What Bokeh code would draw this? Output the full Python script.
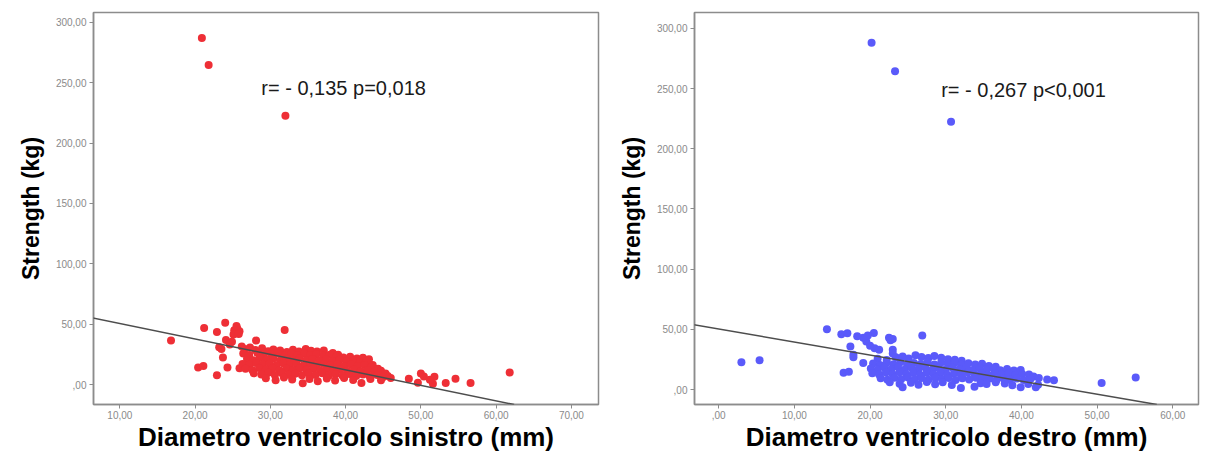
from bokeh.plotting import figure
from bokeh.layouts import row
from bokeh.models import Range1d, FixedTicker, Slope, Label
from bokeh.embed import file_html
from bokeh.resources import INLINE

# ---------------- data: left panel (Diametro ventricolo sinistro) ----------------
sin_x = [20.9, 21.8, 32.0,
         16.8, 21.2, 24.0, 22.9, 25.2, 25.6, 25.9, 25.5, 25.1, 25.8, 31.9, 28.1, 23.2, 23.5, 24.1, 24.6,
         23.7, 20.4, 21.1, 24.3, 22.9, 25.9, 24.9, 26.2,
         26.6, 27.3, 28.0, 28.9, 29.7, 30.4, 31.3, 32.2, 33.0, 33.8, 34.7, 35.4, 36.2, 37.1, 38.3, 39.0,
         26.4, 27.2, 28.3, 29.1, 30.1, 31.0, 31.9, 32.8, 33.6, 34.5, 35.3, 36.1, 37.0, 37.9, 38.8, 39.7,
         40.6, 41.5, 42.3, 43.1,
         26.9, 27.7, 28.6, 29.5, 30.4, 31.3, 32.1, 33.0, 33.9, 34.8, 35.6, 36.5, 37.4, 38.3, 39.2, 40.1,
         41.0, 41.9, 42.8, 43.6,
         26.3, 27.2, 28.1, 29.0, 29.9, 30.8, 31.7, 32.6, 33.5, 34.4, 35.3, 36.2, 37.1, 38.0, 38.9, 39.8,
         40.7, 41.6, 42.5, 43.4, 44.3,
         26.7, 27.6, 28.5, 29.4, 30.3, 31.2, 32.1, 33.0, 33.9, 34.8, 35.7, 36.6, 37.5, 38.4, 39.3, 40.2,
         41.1, 42.0, 42.9, 43.8, 44.7, 45.3,
         27.8, 28.8, 29.7, 30.6, 31.5, 32.4, 33.3, 34.2, 35.1, 36.0, 36.9, 37.8, 38.7, 39.6, 40.5, 41.4,
         42.3, 43.2, 44.2, 45.0,
         29.4, 30.7, 31.8, 32.9, 34.3, 35.2, 36.3, 37.5, 38.6, 39.8, 41.0, 42.1, 43.3, 44.7,
         48.4, 50.0, 49.6, 50.4, 51.8, 51.6, 51.2, 53.3, 54.6, 56.6, 61.8, 45.6, 46.0]
sin_y = [287.0, 264.5, 222.5,
         36.5, 47.0, 51.2, 43.5, 45.0, 46.5, 44.2, 48.5, 41.6, 42.0, 45.2, 36.5, 31.0, 29.5, 37.0, 33.2,
         22.5, 14.3, 15.4, 14.3, 7.9, 13.5, 35.5, 31.5,
         29.5, 30.8, 28.6, 30.2, 27.6, 29.1, 28.3, 27.0, 28.9, 27.4, 29.6, 28.1, 27.5, 28.3, 26.2, 24.8,
         25.8, 24.6, 26.1, 24.9, 25.4, 26.3, 24.2, 25.6, 24.3, 25.8, 24.6, 25.2, 23.9, 24.7, 23.1, 22.4,
         23.2, 21.6, 22.3, 21.0,
         21.4, 20.3, 22.0, 20.8, 21.7, 20.1, 21.5, 20.6, 21.9, 20.4, 21.2, 19.8, 20.9, 19.5, 20.6, 19.2,
         19.9, 18.6, 19.3, 16.2,
         17.2, 16.4, 18.0, 16.7, 17.6, 16.1, 17.8, 16.5, 17.3, 15.9, 17.4, 16.2, 17.1, 15.8, 16.9, 15.5,
         16.6, 15.2, 16.3, 14.6, 13.2,
         13.1, 12.2, 13.8, 12.6, 13.5, 11.9, 13.3, 12.1, 13.7, 12.4, 13.2, 11.8, 12.9, 11.6, 12.8, 11.4,
         12.5, 11.2, 12.1, 10.6, 11.5, 9.2,
         9.4, 8.5, 9.8, 8.1, 9.6, 8.3, 9.1, 7.8, 9.3, 8.0, 9.5, 7.6, 8.8, 7.4, 8.9, 7.2,
         8.4, 7.0, 8.1, 6.3,
         5.4, 3.7, 5.9, 4.2, 1.2, 4.8, 2.8, 5.1, 3.5, 5.6, 3.9, 1.4, 4.6, 3.7,
         5.0, 9.3, 1.7, 6.8, 6.5, 0.8, 4.0, 1.4, 5.0, 1.4, 10.1, 7.2, 5.5]

# ---------------- data: right panel (Diametro ventricolo destro) ----------------
des_x = [20.2, 23.3, 30.7,
         3.0, 5.4, 14.3, 16.2, 17.0, 19.1, 19.5, 20.5, 19.7, 17.4, 17.8, 17.8, 19.1, 16.5, 17.2, 20.6,
         21.2, 22.5, 23.0, 22.7, 23.0, 23.0, 26.9, 18.3, 20.0,
         21.0, 22.2, 23.4, 24.3, 25.1, 26.0, 26.8, 27.7, 28.5, 29.4, 30.3, 31.2, 32.1,
         20.4, 21.3, 22.2, 23.1, 24.0, 24.9, 25.8, 26.7, 27.6, 28.5, 29.4, 30.3, 31.2, 32.1, 33.0, 33.9,
         34.8, 35.7, 36.6,
         20.1, 21.0, 21.9, 22.8, 23.7, 24.6, 25.5, 26.4, 27.3, 28.2, 29.1, 30.0, 30.9, 31.8, 32.7, 33.6,
         34.5, 35.4, 36.3, 37.2, 38.1, 39.0, 39.9,
         20.3, 21.2, 22.1, 23.0, 23.9, 24.8, 25.7, 26.6, 27.5, 28.4, 29.3, 30.2, 31.1, 32.0, 32.9, 33.8,
         34.7, 35.6, 36.5, 37.4, 38.3, 39.2, 40.1, 41.0, 41.6,
         21.4, 22.3, 23.2, 24.1, 25.0, 25.9, 26.8, 27.7, 28.6, 29.5, 30.4, 31.3, 32.2, 33.1, 34.0, 34.9,
         35.8, 36.7, 37.6, 38.5, 39.4, 40.3, 41.2, 42.3, 43.4,
         22.6, 23.9, 24.3, 25.4, 26.4, 27.5, 28.6, 29.6, 30.8, 32.0, 33.8, 34.6, 35.4, 36.6, 37.8, 38.8,
         39.9, 40.9, 41.9, 42.2, 44.3,
         50.6, 55.1]
des_y = [288.0, 264.5, 222.5,
         22.7, 24.3, 50.0, 46.0, 46.8, 43.0, 40.0, 47.0, 45.0, 35.7, 29.0, 26.8, 22.0, 14.0, 14.9, 34.3,
         33.0, 43.0, 42.0, 41.0, 33.0, 30.0, 45.0, 44.2, 36.5,
         25.5, 24.6, 26.8, 27.4, 25.9, 28.6, 27.1, 26.2, 27.8, 26.5, 25.2, 24.7, 23.9,
         21.6, 20.4, 22.3, 21.0, 22.6, 20.7, 22.1, 21.2, 22.8, 20.9, 22.4, 21.0, 22.2, 20.6, 21.8, 20.9,
         21.4, 19.6, 19.0,
         17.5, 16.4, 18.2, 16.9, 18.5, 16.6, 18.0, 16.8, 18.4, 16.5, 17.9, 16.6, 18.2, 16.8, 17.7, 16.3,
         17.8, 16.5, 17.4, 16.1, 17.0, 15.9, 16.3,
         13.6, 12.5, 14.1, 12.8, 14.3, 12.6, 13.9, 12.4, 14.0, 12.7, 13.8, 12.3, 13.6, 12.5, 14.1, 12.8,
         13.5, 12.2, 13.7, 12.4, 13.3, 12.1, 13.0, 12.6, 10.8,
         9.3, 8.2, 9.8, 8.6, 10.1, 8.4, 9.7, 8.1, 9.9, 8.5, 9.6, 8.0, 9.4, 8.3, 9.8, 8.6,
         9.2, 8.0, 9.5, 8.2, 9.1, 7.9, 8.8, 9.6, 8.4,
         6.1, 4.8, 1.9, 5.6, 4.0, 6.2, 4.4, 6.0, 3.8, 1.4, 2.4, 5.3, 4.6, 6.1, 5.0, 3.6,
         1.9, 4.7, 1.9, 4.0, 7.8,
         5.4, 10.0]

# regression fits
sin_fit_intercept, sin_fit_slope = 63.4, -1.279
des_fit_intercept, des_fit_slope = 50.3, -1.083

# annotations
sin_note = "r= - 0,135 p=0,018"
des_note = "r= - 0,267 p<0,001"

# ticks
y_tick_values = [0, 50, 100, 150, 200, 250, 300]
y_tick_labels = [",00", "50,00", "100,00", "150,00", "200,00", "250,00", "300,00"]
sin_x_tick_values = [10, 20, 30, 40, 50, 60, 70]
sin_x_tick_labels = ["10,00", "20,00", "30,00", "40,00", "50,00", "60,00", "70,00"]
des_x_tick_values = [0, 10, 20, 30, 40, 50, 60]
des_x_tick_labels = [",00", "10,00", "20,00", "30,00", "40,00", "50,00", "60,00"]

RED = "#EE2F36"
BLUE = "#5A5AFA"
FONT = "Liberation Sans"


def style(p, xt, xl, xlabel):
    p.grid.visible = False
    p.outline_line_color = "#8c8c8c"
    p.outline_line_width = 1.5
    p.xaxis.ticker = FixedTicker(ticks=xt)
    p.xaxis.major_label_overrides = {v: l for v, l in zip(xt, xl)}
    p.yaxis.ticker = FixedTicker(ticks=y_tick_values)
    p.yaxis.major_label_overrides = {v: l for v, l in zip(y_tick_values, y_tick_labels)}
    for ax in (p.xaxis[0], p.yaxis[0]):
        ax.axis_line_color = "#8c8c8c"
        ax.axis_line_width = 1.5
        ax.major_tick_line_color = "#8c8c8c"
        ax.major_tick_in = 0
        ax.major_tick_out = 4
        ax.minor_tick_line_color = None
        ax.major_label_text_font = FONT
        ax.major_label_text_font_size = "10px"
        ax.major_label_text_color = "#8a8a8a"
        ax.major_label_standoff = 3
        ax.axis_label_text_font = FONT
        ax.axis_label_text_font_style = "bold"
        ax.axis_label_text_color = "#000000"
    p.xaxis.axis_label = xlabel
    p.xaxis.axis_label_text_font_size = "26px"
    p.xaxis.axis_label_standoff = 0
    p.xaxis.major_label_standoff = 2
    p.yaxis.axis_label = "Strength (kg)"
    p.yaxis.axis_label_text_font_size = "23px"
    p.yaxis.axis_label_standoff = 9


left = figure(width=615, height=454, x_range=Range1d(6.5, 73.6), y_range=Range1d(-16.4, 308),
              min_border_left=93, min_border_right=17, min_border_top=12, min_border_bottom=47,
              output_backend="svg", toolbar_location=None)
style(left, sin_x_tick_values, sin_x_tick_labels, "Diametro ventricolo sinistro (mm)")
left.scatter(sin_x, sin_y, size=8, fill_color=RED, line_color=None)
left.add_layout(Slope(gradient=sin_fit_slope, y_intercept=sin_fit_intercept, line_color="#4d4d4d", line_width=1.5))
left.add_layout(Label(x=28.8, y=245.5, text=sin_note, text_font=FONT, text_font_size="20px",
                      text_baseline="middle", text_color="#1a1a1a"))

right = figure(width=588, height=454, x_range=Range1d(-3.2, 63.4), y_range=Range1d(-12.4, 313.2),
               min_border_left=76, min_border_right=5, min_border_top=12, min_border_bottom=47,
               output_backend="svg", toolbar_location=None)
style(right, des_x_tick_values, des_x_tick_labels, "Diametro ventricolo destro (mm)")
right.scatter(des_x, des_y, size=8, fill_color=BLUE, line_color=None)
right.add_layout(Slope(gradient=des_fit_slope, y_intercept=des_fit_intercept, line_color="#4d4d4d", line_width=1.5))
right.add_layout(Label(x=29.4, y=249, text=des_note, text_font=FONT, text_font_size="20px",
                       text_baseline="middle", text_color="#1a1a1a"))

p = row(left, right)
open("out.html", "w").write(file_html(p, INLINE))
